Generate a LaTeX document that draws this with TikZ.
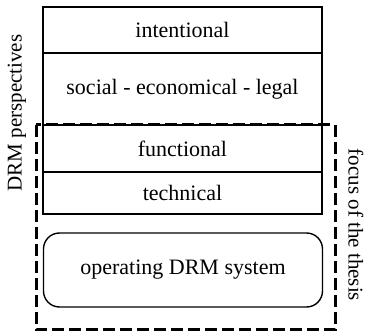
\documentclass[tikz,border=0pt]{standalone}
\usepackage{fontspec}
\setmainfont{Liberation Serif}
\begin{document}
\begin{tikzpicture}[
    x=1pt, y=-1pt,
    layer/.style={rectangle, draw=black, line width=1.4pt, minimum width=279pt, inner sep=0pt, font=\fontsize{22}{24}\selectfont},
    sysbox/.style={layer, rounded corners=16pt},
    side/.style={font=\fontsize{21}{23}\selectfont, inner sep=0pt}
]
    \useasboundingbox (0,0) rectangle (365,334);

    \node[layer, minimum height=46pt] at (182.5,30) (intentional) {intentional};
    \node[layer, minimum height=72pt] at (182.5,89) (social) {social - economical - legal};
    \node[layer, minimum height=47pt] at (182.5,148.5) (functional) {functional};
    \node[layer, minimum height=42pt] at (182.5,193) (technical) {technical};
    \node[sysbox, minimum height=74pt] at (183,270) (operating) {operating DRM system};

    \draw[line width=3pt, dash pattern=on 12pt off 5pt] (36,125) rectangle (335,330);

    \node[side, rotate=90] at (17,113) (perspectives) {DRM perspectives};
    \node[side, rotate=-90] at (356,225) (focus) {focus of the thesis};
\end{tikzpicture}
\end{document}
